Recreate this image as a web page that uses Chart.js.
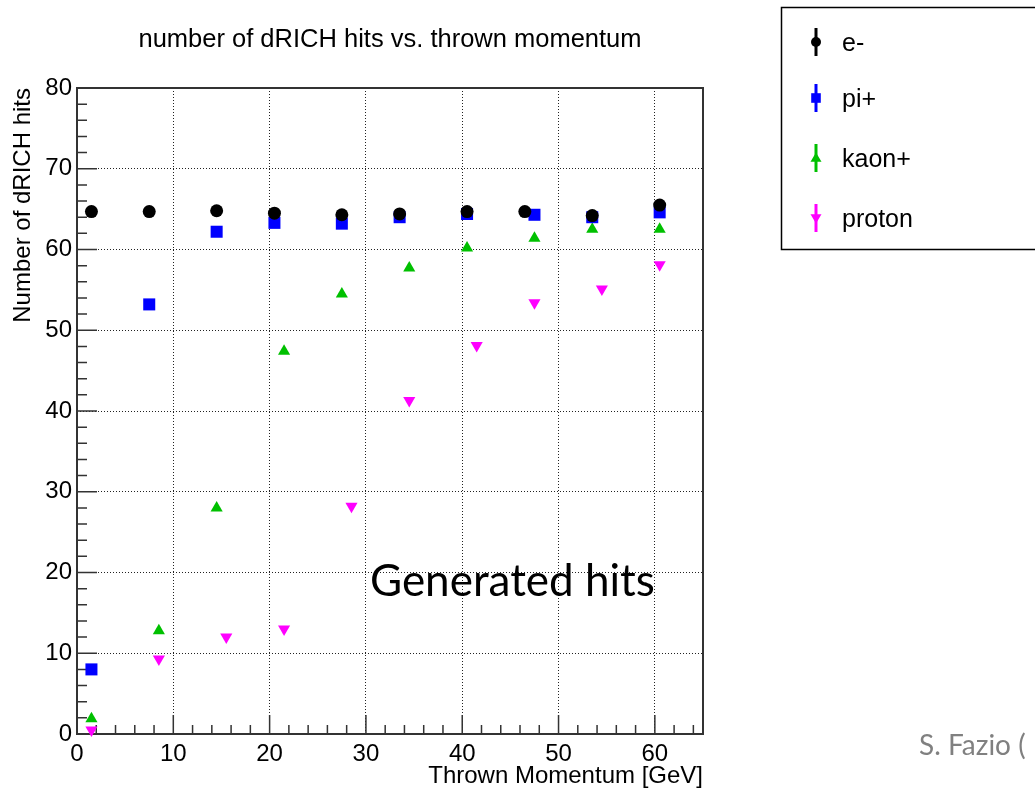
<!DOCTYPE html>
<html>
<head>
    <meta charset="utf-8">
    <title>number of dRICH hits vs. thrown momentum</title>
    <script src="https://cdn.jsdelivr.net/npm/chart.js@4.4.1/dist/chart.umd.min.js"></script>
    <style type="text/css">
        body {
            margin: 0;
            background: #ffffff;
        }

        #chart-container {
            width: 1035px;
            height: 791px;
        }
    </style>
</head>
<body>

<div id="chart-container">
    <canvas id="hitsCanvas" width="1035" height="791"></canvas>
</div>

<script>
    // thrown momentum [GeV] and mean number of dRICH hits per particle type
    var momentumE = [1.5, 7.5, 14.5, 20.5, 27.5, 33.5, 40.5, 46.5, 53.5, 60.5];
    var hitsE = [64.7, 64.7, 64.8, 64.5, 64.3, 64.4, 64.7, 64.7, 64.2, 65.5];

    var momentumPi = [1.5, 7.5, 14.5, 20.5, 27.5, 33.5, 40.5, 47.5, 53.5, 60.5];
    var hitsPi = [8.0, 53.2, 62.2, 63.3, 63.2, 64.0, 64.4, 64.3, 64.0, 64.6];

    var momentumKaon = [1.5, 8.5, 14.5, 21.5, 27.5, 34.5, 40.5, 47.5, 53.5, 60.5];
    var hitsKaon = [1.9, 12.8, 28.0, 47.4, 54.5, 57.7, 60.2, 61.4, 62.5, 62.5];

    var momentumProton = [1.5, 8.5, 15.5, 21.5, 28.5, 34.5, 41.5, 47.5, 54.5, 60.5];
    var hitsProton = [0.5, 9.3, 12.0, 13.0, 28.2, 41.3, 48.1, 53.4, 55.1, 58.1];

    var seriesNames = ['e-', 'pi+', 'kaon+', 'proton'];
    var seriesColors = ['#000000', '#0000ff', '#00c000', '#ff00ff'];

    var xTickValues = [0, 10, 20, 30, 40, 50, 60];
    var yTickValues = [0, 10, 20, 30, 40, 50, 60, 70, 80];

    function toPoints(xs, ys) {
        var pts = [];
        for (var i in xs) {
            pts.push({x: xs[i], y: ys[i]});
        }
        return pts;
    }

    var TEXT_FONT = '"Liberation Sans", Arial, sans-serif';

    // ROOT-like frame: box around the pad plus inward major/minor ticks
    var rootFrame = {
        id: 'rootFrame',
        beforeDatasetsDraw: function (chart) {
            var ctx = chart.ctx;
            var a = chart.chartArea;
            var xs = chart.scales.x;
            var ys = chart.scales.y;
            ctx.save();
            ctx.strokeStyle = '#333333';
            ctx.lineWidth = 1.5;
            ctx.beginPath();
            for (var v = xs.min; v <= xs.max; v += 2) {
                var px = xs.getPixelForValue(v);
                var len = (v % 10 === 0) ? 19 : 9;
                ctx.moveTo(px, a.bottom);
                ctx.lineTo(px, a.bottom - len);
            }
            for (var w = ys.min; w <= ys.max; w += 2) {
                var py = ys.getPixelForValue(w);
                var ylen = (w % 10 === 0) ? 20 : 10;
                ctx.moveTo(a.left, py);
                ctx.lineTo(a.left + ylen, py);
            }
            ctx.stroke();
            ctx.lineWidth = 2;
            ctx.strokeRect(a.left, a.top, a.right - a.left, a.bottom - a.top);
            ctx.restore();
        }
    };

    function drawMarker(ctx, style, x, y, r, color) {
        ctx.fillStyle = color;
        ctx.beginPath();
        if (style === 'circle') {
            ctx.arc(x, y, r, 0, Math.PI * 2);
        } else if (style === 'rect') {
            ctx.rect(x - r, y - r, 2 * r, 2 * r);
        } else if (style === 'up') {
            ctx.moveTo(x, y - r);
            ctx.lineTo(x + r, y + r * 0.7);
            ctx.lineTo(x - r, y + r * 0.7);
        } else {
            ctx.moveTo(x, y + r);
            ctx.lineTo(x + r, y - r * 0.7);
            ctx.lineTo(x - r, y - r * 0.7);
        }
        ctx.closePath();
        ctx.fill();
    }

    // title, legend box and the free text labels
    var annotations = {
        id: 'annotations',
        afterDraw: function (chart) {
            var ctx = chart.ctx;
            var a = chart.chartArea;
            ctx.save();

            ctx.fillStyle = '#000000';
            ctx.font = '25.5px ' + TEXT_FONT;
            ctx.textAlign = 'center';
            ctx.textBaseline = 'alphabetic';
            ctx.fillText('number of dRICH hits vs. thrown momentum', (a.left + a.right) / 2, 47);

            // legend
            ctx.strokeStyle = '#000000';
            ctx.lineWidth = 1.5;
            ctx.beginPath();
            ctx.moveTo(1040, 7.5);
            ctx.lineTo(781.5, 7.5);
            ctx.lineTo(781.5, 249.5);
            ctx.lineTo(1040, 249.5);
            ctx.stroke();

            var rowY = [42, 98, 158, 218];
            var styles = ['circle', 'rect', 'up', 'down'];
            var sizes = [5, 4.8, 5.5, 5.5];
            for (var i = 0; i < seriesNames.length; i++) {
                var cy = rowY[i];
                ctx.strokeStyle = seriesColors[i];
                ctx.lineWidth = 3;
                ctx.beginPath();
                ctx.moveTo(816, cy - 14);
                ctx.lineTo(816, cy + 14);
                ctx.stroke();
                drawMarker(ctx, styles[i], 816, cy, sizes[i], seriesColors[i]);
                ctx.fillStyle = '#000000';
                ctx.font = '25px ' + TEXT_FONT;
                ctx.textAlign = 'left';
                ctx.textBaseline = 'middle';
                ctx.fillText(seriesNames[i], 842, cy + 2);
            }

            ctx.fillStyle = '#000000';
            ctx.font = '44px Lato, "Open Sans", sans-serif';
            ctx.textAlign = 'left';
            ctx.textBaseline = 'alphabetic';
            ctx.fillText('Generated hits', 370, 596);

            ctx.fillStyle = '#808080';
            ctx.font = '28px Lato, "Open Sans", sans-serif';
            ctx.fillText('S. Fazio (', 919, 755);
            ctx.restore();
        }
    };

    var chartData = {
        datasets: [
            {
                label: seriesNames[0],
                data: toPoints(momentumE, hitsE),
                pointStyle: 'circle',
                pointRadius: 6.5,
                backgroundColor: seriesColors[0],
                borderColor: seriesColors[0],
                borderWidth: 0
            },
            {
                label: seriesNames[1],
                data: toPoints(momentumPi, hitsPi),
                pointStyle: 'rect',
                pointRadius: 8.5,
                backgroundColor: seriesColors[1],
                borderColor: seriesColors[1],
                borderWidth: 0
            },
            {
                label: seriesNames[2],
                data: toPoints(momentumKaon, hitsKaon),
                pointStyle: 'triangle',
                pointRadius: 7,
                backgroundColor: seriesColors[2],
                borderColor: seriesColors[2],
                borderWidth: 0
            },
            {
                label: seriesNames[3],
                data: toPoints(momentumProton, hitsProton),
                pointStyle: 'triangle',
                rotation: 180,
                pointRadius: 7,
                backgroundColor: seriesColors[3],
                borderColor: seriesColors[3],
                borderWidth: 0
            }
        ]
    };

    var hitsChart = new Chart(document.getElementById('hitsCanvas'), {
        type: 'scatter',
        data: chartData,
        plugins: [rootFrame, annotations],
        options: {
            responsive: false,
            animation: false,
            devicePixelRatio: 1,
            clip: false,
            layout: {
                padding: {left: 0, top: 88, right: 332, bottom: 0}
            },
            plugins: {
                legend: {display: false},
                tooltip: {enabled: false}
            },
            scales: {
                x: {
                    type: 'linear',
                    min: 0,
                    max: 65,
                    afterBuildTicks: function (scale) {
                        scale.ticks = xTickValues.map(function (v) { return {value: v}; });
                    },
                    afterFit: function (scale) {
                        scale.height = 57;
                    },
                    ticks: {
                        color: '#000000',
                        padding: 6,
                        maxRotation: 0,
                        font: {family: TEXT_FONT, size: 24}
                    },
                    grid: {color: '#222222', lineWidth: 1, drawTicks: false},
                    border: {display: false, dash: [1, 2]},
                    title: {
                        display: true,
                        text: 'Thrown Momentum [GeV]',
                        align: 'end',
                        color: '#000000',
                        padding: {top: 0, bottom: 0},
                        font: {family: TEXT_FONT, size: 24}
                    }
                },
                y: {
                    type: 'linear',
                    min: 0,
                    max: 80,
                    afterBuildTicks: function (scale) {
                        scale.ticks = yTickValues.map(function (v) { return {value: v}; });
                    },
                    afterFit: function (scale) {
                        scale.width = 77;
                    },
                    ticks: {
                        color: '#000000',
                        padding: 5,
                        font: {family: TEXT_FONT, size: 24}
                    },
                    grid: {color: '#222222', lineWidth: 1, drawTicks: false},
                    border: {display: false, dash: [1, 2]},
                    title: {
                        display: true,
                        text: 'Number of dRICH hits',
                        align: 'end',
                        color: '#000000',
                        padding: {top: 9, bottom: 0},
                        font: {family: TEXT_FONT, size: 24}
                    }
                }
            }
        }
    });
</script>

</body>
</html>
